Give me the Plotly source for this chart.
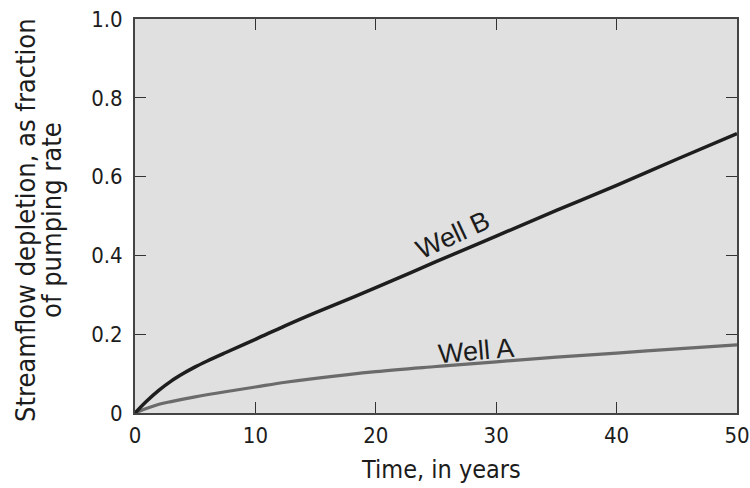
import plotly.graph_objects as go

t_b = [0, 1, 2, 3, 4, 5, 6, 7.5, 10, 12.5, 15, 20, 25, 30, 35, 40, 45, 50]
well_b = [0, 0.031, 0.058, 0.081, 0.100, 0.117, 0.132, 0.153, 0.187, 0.222, 0.255, 0.318, 0.384, 0.449, 0.514, 0.578, 0.644, 0.709]
t_a = [0, 1, 2, 3, 5, 7.5, 10, 12.5, 15, 20, 25, 30, 35, 40, 45, 50]
well_a = [0, 0.012, 0.022, 0.029, 0.041, 0.054, 0.066, 0.078, 0.088, 0.105, 0.118, 0.130, 0.142, 0.152, 0.163, 0.173]

x_ticks = [0, 10, 20, 30, 40, 50]
y_ticks = [0, 0.2, 0.4, 0.6, 0.8, 1.0]
y_ticktext = ["0", "0.2", "0.4", "0.6", "0.8", "1.0"]

NARROW = "DejaVu Sans Condensed"
SANS = "Liberation Sans, Arial, sans-serif"
TXT = "#1c1c1c"

L, R, T, B = 135, 13, 19, 75
PW, PH = 750 - L - R, 488 - T - B

fig = go.Figure()
fig.add_trace(go.Scatter(x=t_a, y=well_a, mode="lines", line=dict(color="#6b6b6b", width=3.2, shape="spline"),
                         name="Well A", showlegend=False))
fig.add_trace(go.Scatter(x=t_b, y=well_b, mode="lines", line=dict(color="#1e1e1e", width=3.5, shape="spline"),
                         name="Well B", showlegend=False))

fig.add_annotation(x=26.4, y=0.452, text="Well B", showarrow=False, textangle=-25,
                   font=dict(family=SANS, size=27, color=TXT))
fig.add_annotation(x=28.3, y=0.158, text="Well A", showarrow=False, textangle=-5,
                   font=dict(family=SANS, size=27, color=TXT))

# axis titles placed in paper coordinates
fig.add_annotation(xref="paper", yref="paper", x=(441 - L) / PW, y=(488 - B - 469) / PH, text="Time, in years",
                   showarrow=False, xanchor="center", yanchor="middle",
                   font=dict(family=NARROW, size=25, color=TXT))
fig.add_annotation(xref="paper", yref="paper", x=(26 - L) / PW, y=0.49,
                   text="Streamflow depletion, as fraction", showarrow=False, textangle=-90,
                   xanchor="center", yanchor="middle", font=dict(family=NARROW, size=27, color=TXT))
fig.add_annotation(xref="paper", yref="paper", x=(52 - L) / PW, y=0.49,
                   text="of pumping rate", showarrow=False, textangle=-90,
                   xanchor="center", yanchor="middle", font=dict(family=NARROW, size=27, color=TXT))

axis_common = dict(showgrid=False, zeroline=False, showline=True, linecolor="#444", linewidth=1.8,
                   mirror="allticks", ticks="inside", ticklen=11, tickcolor="#333", tickwidth=1.4,
                   automargin=False, tickfont=dict(family=NARROW, size=22, color=TXT))

fig.update_xaxes(range=[0, 50], tickvals=x_ticks, ticklabelstandoff=2, **axis_common)
fig.update_yaxes(range=[0, 1.0], tickvals=y_ticks, ticktext=y_ticktext, ticklabelstandoff=6, **axis_common)

fig.update_layout(width=750, height=488, margin=dict(l=L, r=R, t=T, b=B),
                  plot_bgcolor="#e0e0e0", paper_bgcolor="white", showlegend=False)

fig.write_html("out.html", config={"displayModeBar": False},
               post_script="document.body.style.margin='0px';document.body.style.overflow='hidden';")
